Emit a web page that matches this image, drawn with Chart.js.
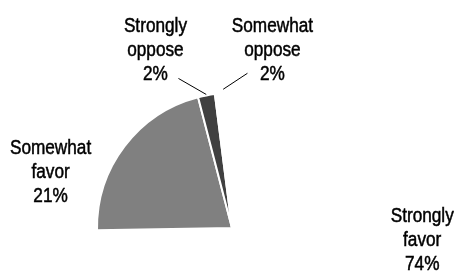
<!DOCTYPE html>
<html>
<head>
<meta charset="utf-8">
<script src="https://cdn.jsdelivr.net/npm/chart.js@4/dist/chart.umd.min.js"></script>
<style>
  html, body { margin: 0; padding: 0; background: #fff; }
  #wrap { width: 454px; height: 273px; overflow: hidden; position: relative; }
</style>
</head>
<body>
<div id="wrap"><canvas id="pie" width="454" height="370"></canvas></div>
<script>
var categories = ["Strongly favor", "Somewhat favor", "Strongly oppose", "Somewhat oppose"];
var labelLines = [["Strongly", "favor"], ["Somewhat", "favor"], ["Strongly", "oppose"], ["Somewhat", "oppose"]];
var values = [74, 21, 2, 2];
var percentLabels = ["74%", "21%", "2%", "2%"];

var sliceColors = ["#ffffff", "#808080", "#404040", "#ffffff"];

// where each label sits, relative to the middle of its slice's outer edge
var labelStyle = [
  { dx: 94, dy: -101, leader: null },
  { dx: -74, dy: 8, leader: null },
  { dx: -51, dy: -63, leader: { dx: 23, dy: -2, r: 1 } },
  { dx: 49, dy: -61, leader: { dx: -25, dy: -7, r: 4 } }
];

var lineHeight = 24;
var narrow = 0.86; // the original uses a condensed face

var pieLabels = {
  id: "pieLabels",
  afterDatasetsDraw: function (chart) {
    var ctx = chart.ctx;
    var arcs = chart.getDatasetMeta(0).data;
    ctx.save();
    ctx.font = "20px 'Liberation Sans', Arial, sans-serif";
    ctx.fillStyle = "#000";
    ctx.strokeStyle = "#000";
    ctx.textAlign = "center";
    ctx.textBaseline = "alphabetic";
    for (var i = 0; i < arcs.length; i++) {
      var a = arcs[i];
      var mid = (a.startAngle + a.endAngle) / 2;
      var ex = a.x + Math.cos(mid) * a.outerRadius;
      var ey = a.y + Math.sin(mid) * a.outerRadius;
      var st = labelStyle[i];
      var tx = ex + st.dx;
      var ty = ey + st.dy;
      var lines = labelLines[i].concat([percentLabels[i]]);
      for (var j = 0; j < lines.length; j++) {
        ctx.save();
        ctx.translate(tx, ty + j * lineHeight);
        ctx.scale(narrow, 1);
        ctx.fillText(lines[j], 0, 0);
        ctx.lineWidth = 0.5;
        ctx.strokeText(lines[j], 0, 0);
        ctx.restore();
      }
      if (st.leader) {
        var lastY = ty + (lines.length - 1) * lineHeight;
        var r = a.outerRadius + st.leader.r;
        ctx.beginPath();
        ctx.lineWidth = 1;
        ctx.moveTo(tx + st.leader.dx, lastY + st.leader.dy);
        ctx.lineTo(a.x + Math.cos(mid) * r, a.y + Math.sin(mid) * r);
        ctx.stroke();
      }
    }
    ctx.restore();
  }
};

new Chart(document.getElementById("pie").getContext("2d"), {
  type: "pie",
  data: {
    labels: categories,
    datasets: [{
      data: values,
      backgroundColor: sliceColors,
      borderColor: "#ffffff",
      borderWidth: 2
    }]
  },
  options: {
    responsive: false,
    animation: false,
    layout: { padding: { left: 96, right: 86, top: 92, bottom: 6 } },
    plugins: {
      legend: { display: false },
      tooltip: { enabled: false }
    }
  },
  plugins: [pieLabels]
});
</script>
</body>
</html>
